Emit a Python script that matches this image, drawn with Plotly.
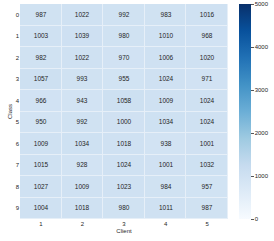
import plotly.graph_objects as go

clients = ["1", "2", "3", "4", "5"]
classes = ["0", "1", "2", "3", "4", "5", "6", "7", "8", "9"]
counts = [
    [987, 1022, 992, 983, 1016],
    [1003, 1039, 980, 1010, 968],
    [982, 1022, 970, 1006, 1020],
    [1057, 993, 955, 1024, 971],
    [966, 943, 1058, 1009, 1024],
    [950, 992, 1000, 1034, 1024],
    [1009, 1034, 1018, 938, 1001],
    [1015, 928, 1024, 1001, 1032],
    [1027, 1009, 1023, 984, 957],
    [1004, 1018, 980, 1011, 987],
]
cbar_ticks = [0, 1000, 2000, 3000, 4000, 5000]

blues = [
    [0.0, "rgb(247,251,255)"], [0.125, "rgb(222,235,247)"],
    [0.25, "rgb(198,219,239)"], [0.375, "rgb(158,202,225)"],
    [0.5, "rgb(107,174,214)"], [0.625, "rgb(66,146,198)"],
    [0.75, "rgb(33,113,181)"], [0.875, "rgb(8,81,156)"],
    [1.0, "rgb(8,48,107)"],
]

font = "Liberation Sans, Arial, sans-serif"
fig = go.Figure(go.Heatmap(
    z=counts, x=clients, y=classes,
    colorscale=blues, zmin=0, zmax=5000,
    text=[[str(v) for v in row] for row in counts],
    texttemplate="%{text}",
    textfont=dict(size=6.5, color="#262626", family=font),
    xgap=1, ygap=1,
    colorbar=dict(
        x=1.053, xanchor="left", xref="paper",
        y=0, yanchor="bottom", len=1, lenmode="fraction",
        thickness=12, outlinewidth=0, ypad=0, xpad=0,
        tickvals=cbar_ticks, ticks="outside", ticklen=3,
        tickcolor="#555", tickfont=dict(size=6, color="#262626", family=font),
    ),
    hoverongaps=False,
))
fig.update_layout(
    width=274, height=241,
    margin=dict(l=20, r=46, t=4, b=22, autoexpand=False),
    paper_bgcolor="white", plot_bgcolor="#e6eff8",
    font=dict(family=font, size=6, color="#262626"),
)
fig.update_xaxes(
    title=dict(text="Client", font=dict(size=6), standoff=2),
    tickfont=dict(size=6), showgrid=False, zeroline=False, ticks="",
    automargin=False,
)
fig.update_yaxes(
    title=dict(text="Class", font=dict(size=6), standoff=2),
    autorange="reversed",
    tickfont=dict(size=6), showgrid=False, zeroline=False, ticks="",
    automargin=False,
)
fig.write_html(
    "out.html",
    config={"displayModeBar": False},
    post_script="document.body.style.margin='0';document.body.style.overflow='hidden';",
)
